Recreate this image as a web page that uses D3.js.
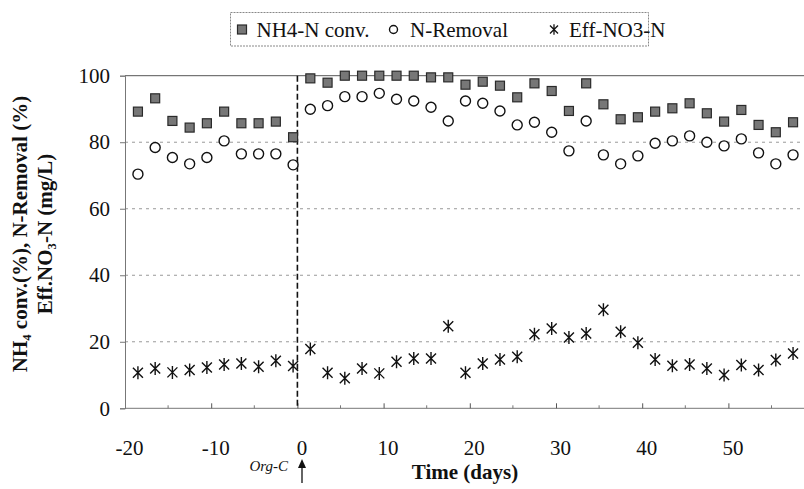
<!DOCTYPE html>
<html>
<head>
<meta charset="utf-8">
<script src="https://cdn.jsdelivr.net/npm/d3@7"></script>
<style>
  body { margin: 0; background: #fff; }
  svg, svg text { font-family: "Liberation Serif", "Times New Roman", serif; }
</style>
</head>
<body>
<div class="chart"></div>
<script>
const WIDTH = 804
const HEIGHT = 489

// sampling days (every 2nd day)
const DAYS = d3.range(39).map(i => -18.5 + 2 * i)

const NH4_CONV = [89.2, 93.2, 86.4, 84.4, 85.7, 89.2, 85.7, 85.7, 86.2, 81.5,
  99.2, 97.9, 100, 100, 100, 100, 100, 99.5, 99.5, 97.3,
  98.2, 97.0, 93.5, 97.7, 95.4, 89.4, 97.7, 91.4, 86.9, 87.5,
  89.2, 90.2, 91.7, 88.7, 86.2, 89.7, 85.2, 83.0, 86.0]

const N_REMOVAL = [70.4, 78.4, 75.4, 73.5, 75.4, 80.4, 76.5, 76.5, 76.5, 73.2,
  89.9, 91.0, 93.7, 93.7, 94.7, 92.9, 92.4, 90.5, 86.4, 92.4,
  91.7, 89.4, 85.2, 86.0, 83.0, 77.4, 86.4, 76.2, 73.5, 75.9,
  79.7, 80.4, 81.9, 80.0, 78.9, 81.0, 76.8, 73.5, 76.2]

const EFF_NO3 = [10.7, 12.0, 10.8, 11.5, 12.3, 13.2, 13.5, 12.5, 14.3, 12.7,
  17.8, 10.7, 9.0, 12.0, 10.5, 14.0, 15.0, 15.0, 24.7, 10.7,
  13.5, 14.7, 15.5, 22.3, 24.0, 21.3, 22.5, 29.6, 23.0, 19.7,
  14.7, 12.8, 13.2, 12.0, 10.0, 13.0, 11.5, 14.5, 16.5]

const X_TICKS = [-20, -10, 0, 10, 20, 30, 40, 50]
const X_MINOR = [-15, -5, 5, 15, 25, 35, 45, 55]
const Y_TICKS = [0, 20, 40, 60, 80, 100]
const LEGEND = ["NH4-N conv.", "N-Removal", "Eff-NO3-N"]

const svg = d3.select(".chart").append("svg").attr("width", WIDTH).attr("height", HEIGHT)

const x = d3.scaleLinear().domain([-20, 60]).range([125, 814.6])
const y = d3.scaleLinear().domain([0, 100]).range([408.3, 75.7])

// gridlines
svg.append("g").selectAll("line").data(Y_TICKS.filter(t => t > 0)).join("line")
  .attr("x1", x(-20)).attr("x2", WIDTH)
  .attr("y1", d => y(d)).attr("y2", d => y(d))
  .attr("stroke", d => d === 100 ? "#555" : "#999")
  .attr("stroke-width", 1)
  .attr("stroke-dasharray", d => d === 100 ? null : "3,4")

// x axis
let xAxis = svg.append("g").attr("transform", `translate(0, ${y(0)})`)
  .call(d3.axisBottom(x).tickValues(X_TICKS).tickFormat(d => String(d))
    .tickSizeInner(-5).tickSizeOuter(0).tickPadding(0))
xAxis.attr("font-family", null).attr("font-size", null)
xAxis.select(".domain").attr("d", `M${x(-20)},0H${WIDTH}`).attr("stroke", "#777")
xAxis.selectAll(".tick line").attr("stroke", "#555")
xAxis.selectAll(".tick text")
  .style("font-family", "'Liberation Serif', serif").style("font-size", "21px")
  .attr("fill", "#111").attr("dx", 4).attr("dy", 0).attr("y", 47)

svg.append("g").attr("transform", `translate(0, ${y(0)})`)
  .selectAll("line").data(X_MINOR).join("line")
  .attr("x1", d => x(d)).attr("x2", d => x(d))
  .attr("y1", 0).attr("y2", -3).attr("stroke", "#777")

// y axis
let yAxis = svg.append("g").attr("transform", `translate(${x(-20)}, 0)`)
  .call(d3.axisLeft(y).tickValues(Y_TICKS).tickSize(5).tickPadding(10))
yAxis.attr("font-family", null).attr("font-size", null)
yAxis.select(".domain").attr("stroke", "#777")
yAxis.selectAll(".tick line").attr("stroke", "#777")
yAxis.selectAll(".tick text")
  .style("font-family", "'Liberation Serif', serif").style("font-size", "21px").attr("fill", "#111")

// Org-C addition line
svg.append("line")
  .attr("x1", x(0)).attr("x2", x(0)).attr("y1", y(100)).attr("y2", y(0))
  .attr("stroke", "#111").attr("stroke-width", 1.6).attr("stroke-dasharray", "6,3")

// markers
const starPath = "M-5,-5L5,5M-5,5L5,-5M0,-6.5L0,6.5"

function drawSquares(g, cx, cy) {
  g.append("rect").attr("x", cx - 4.5).attr("y", cy - 4.5).attr("width", 9).attr("height", 9)
    .attr("fill", "#777").attr("stroke", "#2a2a2a").attr("stroke-width", 1.2)
}

let pts = svg.append("g")
DAYS.forEach((d, i) => {
  drawSquares(pts, x(d), y(NH4_CONV[i]))
})
pts.selectAll("circle").data(N_REMOVAL).join("circle")
  .attr("cx", (d, i) => x(DAYS[i])).attr("cy", d => y(d)).attr("r", 5)
  .attr("fill", "#fff").attr("stroke", "#111").attr("stroke-width", 1.4)
pts.selectAll("path.star").data(EFF_NO3).join("path").attr("class", "star")
  .attr("transform", (d, i) => `translate(${x(DAYS[i])}, ${y(d)})`)
  .attr("d", starPath).attr("stroke", "#111").attr("stroke-width", 1.4).attr("fill", "none")

// legend
let legend = svg.append("g")
legend.append("rect").attr("x", 230.5).attr("y", 12.5).attr("width", 418).attr("height", 33.5)
  .attr("fill", "#fff").attr("stroke", "#888").attr("stroke-width", 1).attr("stroke-dasharray", "2,1")
drawSquares(legend, 242, 29.5)
legend.append("circle").attr("cx", 393.5).attr("cy", 29.5).attr("r", 4)
  .attr("fill", "#fff").attr("stroke", "#111").attr("stroke-width", 1.4)
legend.append("path").attr("transform", "translate(554, 29.5) scale(0.8)")
  .attr("d", starPath).attr("stroke", "#111").attr("stroke-width", 1.6)
legend.selectAll("text").data(LEGEND).join("text")
  .attr("x", (d, i) => [256.5, 410, 569][i]).attr("y", 36.5)
  .attr("font-size", 21).attr("fill", "#111").text(d => d)

// axis titles
svg.append("text").attr("x", 465).attr("y", 479).attr("text-anchor", "middle")
  .attr("font-size", 21).attr("font-weight", "bold").attr("fill", "#111").text("Time (days)")

let yTitle = svg.append("g").attr("transform", "translate(0, 234) rotate(-90)")
yTitle.append("text").attr("x", 0).attr("y", 27).attr("text-anchor", "middle")
  .attr("font-size", 21).attr("font-weight", "bold").attr("fill", "#111")
  .text("NH₄ conv.(%), N-Removal (%)")
yTitle.append("text").attr("x", 0).attr("y", 52).attr("text-anchor", "middle")
  .attr("font-size", 21).attr("font-weight", "bold").attr("fill", "#111")
  .text("Eff.NO₃-N (mg/L)")

// Org-C annotation
svg.append("text").attr("x", 288).attr("y", 471).attr("text-anchor", "end")
  .attr("font-size", 15).attr("font-style", "italic").attr("fill", "#111").text("Org-C")
svg.append("line").attr("x1", 302).attr("x2", 302).attr("y1", 483).attr("y2", 465)
  .attr("stroke", "#111").attr("stroke-width", 1.3)
svg.append("path").attr("d", "M298,468L302,459L306,468Z").attr("fill", "#111")
</script>
</body>
</html>
